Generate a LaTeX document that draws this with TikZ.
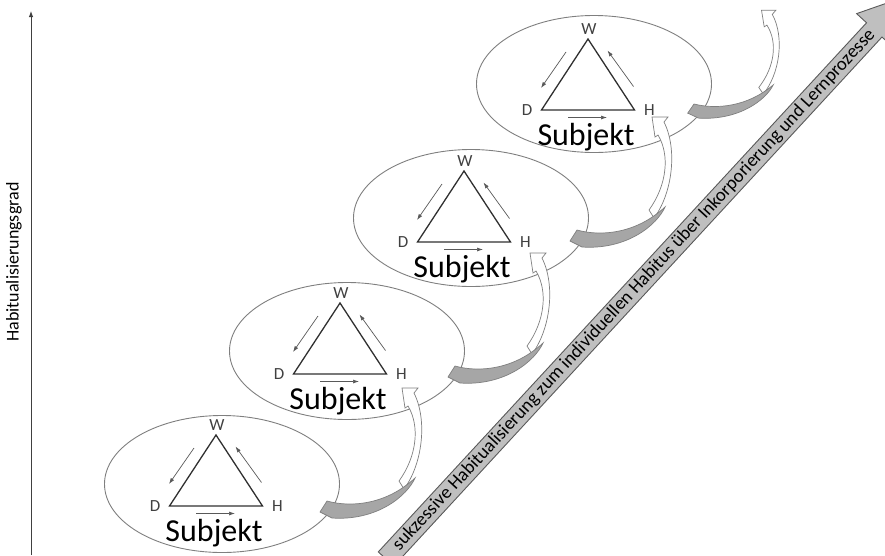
\documentclass[tikz,border=0pt]{standalone}
\usepackage{fontspec}
\setmainfont{Carlito}
\usetikzlibrary{arrows.meta,calc}
\definecolor{ellc}{HTML}{7F7F7F}
\definecolor{tric}{HTML}{303030}
\definecolor{labc}{HTML}{404040}
\definecolor{arrc}{HTML}{595959}
\definecolor{bandc}{HTML}{A6A6A6}
\definecolor{bigfill}{HTML}{BFBFBF}
\definecolor{bigdraw}{HTML}{595959}
\tikzset{
  ell/.style={draw=ellc, line width=0.9pt},
  tri/.style={draw=tric, line width=1.3pt, line join=miter},
  lab/.style={font=\fontsize{17}{17}\selectfont, text=labc, inner sep=0pt},
  subj/.style={font=\fontsize{32}{32}\selectfont, inner sep=0pt, anchor=base},
  smallarr/.style={draw=arrc, line width=0.7pt, -{Latex[length=6pt,width=4pt]}},
  axisarr/.style={draw=labc, line width=1pt, -{Latex[length=6pt,width=4.5pt]}},
  bigtext/.style={font=\fontsize{18.7}{18.7}\selectfont, inner sep=0pt},
  curvarrow/.pic={
    \path[fill=white, draw=ellc, line width=0.7pt]
      (77,-12) .. controls (95,-36) and (101,-80) .. (87,-108)
      -- (91,-113) -- (75,-113) -- (78,-93) -- (81,-95)
      .. controls (93,-75) and (90,-45) .. (72,-20) -- cycle;
    \path[fill=bandc, draw=ellc, line width=0.7pt]
      (0,0) .. controls (25,7) and (60,3) .. (88,-23)
      .. controls (80,-5) and (50,20) .. (5,17) -- (-7,11) -- cycle;
  }
}
\begin{document}
\begin{tikzpicture}[x=1pt,y=-1pt]
\useasboundingbox (0,0) rectangle (885,555);

% vertical axis
\coordinate (ax0) at (31,555);
\coordinate (ax1) at (31,11);
\draw[axisarr] (ax0) -- (ax1);
\node[inner sep=0pt, rotate=90, font=\fontsize{18}{18}\selectfont] (axlab) at (14,262) {Habitualisierungsgrad};

% four subject units
\foreach \i/\ax/\ay/\ex/\ey in {1/216/435/222/484, 2/340/303/347/351, 3/464/171/471/218, 4/588/39/594/84}{
  \coordinate (e\i) at (\ex,\ey);
  \draw[ell] (e\i) ellipse [x radius=117.5, y radius=68.5];
  \coordinate (W\i) at (\ax,\ay);
  \coordinate (D\i) at (\ax-46.5,\ay+71);
  \coordinate (H\i) at (\ax+46.5,\ay+71);
  \draw[tri] (W\i) -- (D\i) -- (H\i) -- cycle;
  \node[lab] (wl\i) at (\ax+1,\ay-10) {W};
  \node[lab] (dl\i) at (\ax-61,\ay+71.5) {D};
  \node[lab] (hl\i) at (\ax+61.5,\ay+71.5) {H};
  \node[subj] (s\i) at (\ax-2,\ay+106) {Subjekt};
  \coordinate (la\i) at (\ax-22,\ay+13);
  \coordinate (lb\i) at (\ax-47,\ay+49);
  \coordinate (ra\i) at (\ax+45.5,\ay+47.5);
  \coordinate (rb\i) at (\ax+19.5,\ay+11.5);
  \coordinate (ba\i) at (\ax-20,\ay+78.5);
  \coordinate (bb\i) at (\ax+19,\ay+78.5);
  \draw[smallarr] (la\i) -- (lb\i);
  \draw[smallarr] (ra\i) -- (rb\i);
  \draw[smallarr] (ba\i) -- (bb\i);
}

% curved transition arrows
\pic at (327,501) {curvarrow};
\pic at (455,366) {curvarrow};
\pic at (577,230) {curvarrow};
\pic[xscale=0.9, yscale=0.83] at (694,104) {curvarrow};

% big diagonal arrow
\begin{scope}[shift={(386,559)}, rotate=47.3]
  \path[fill=bigfill, draw=bigdraw, line width=0.9pt]
    (0,-10.5) -- (720,-10.5) -- (720,-24) -- (765,0) -- (720,24) -- (720,10.5) -- (0,10.5) -- cycle;
  \node[bigtext, rotate=47.3] (bigtxt) at (366,0) {sukzessive Habitualisierung zum individuellen Habitus über Inkorporierung und Lernprozesse};
\end{scope}
\end{tikzpicture}
\end{document}
